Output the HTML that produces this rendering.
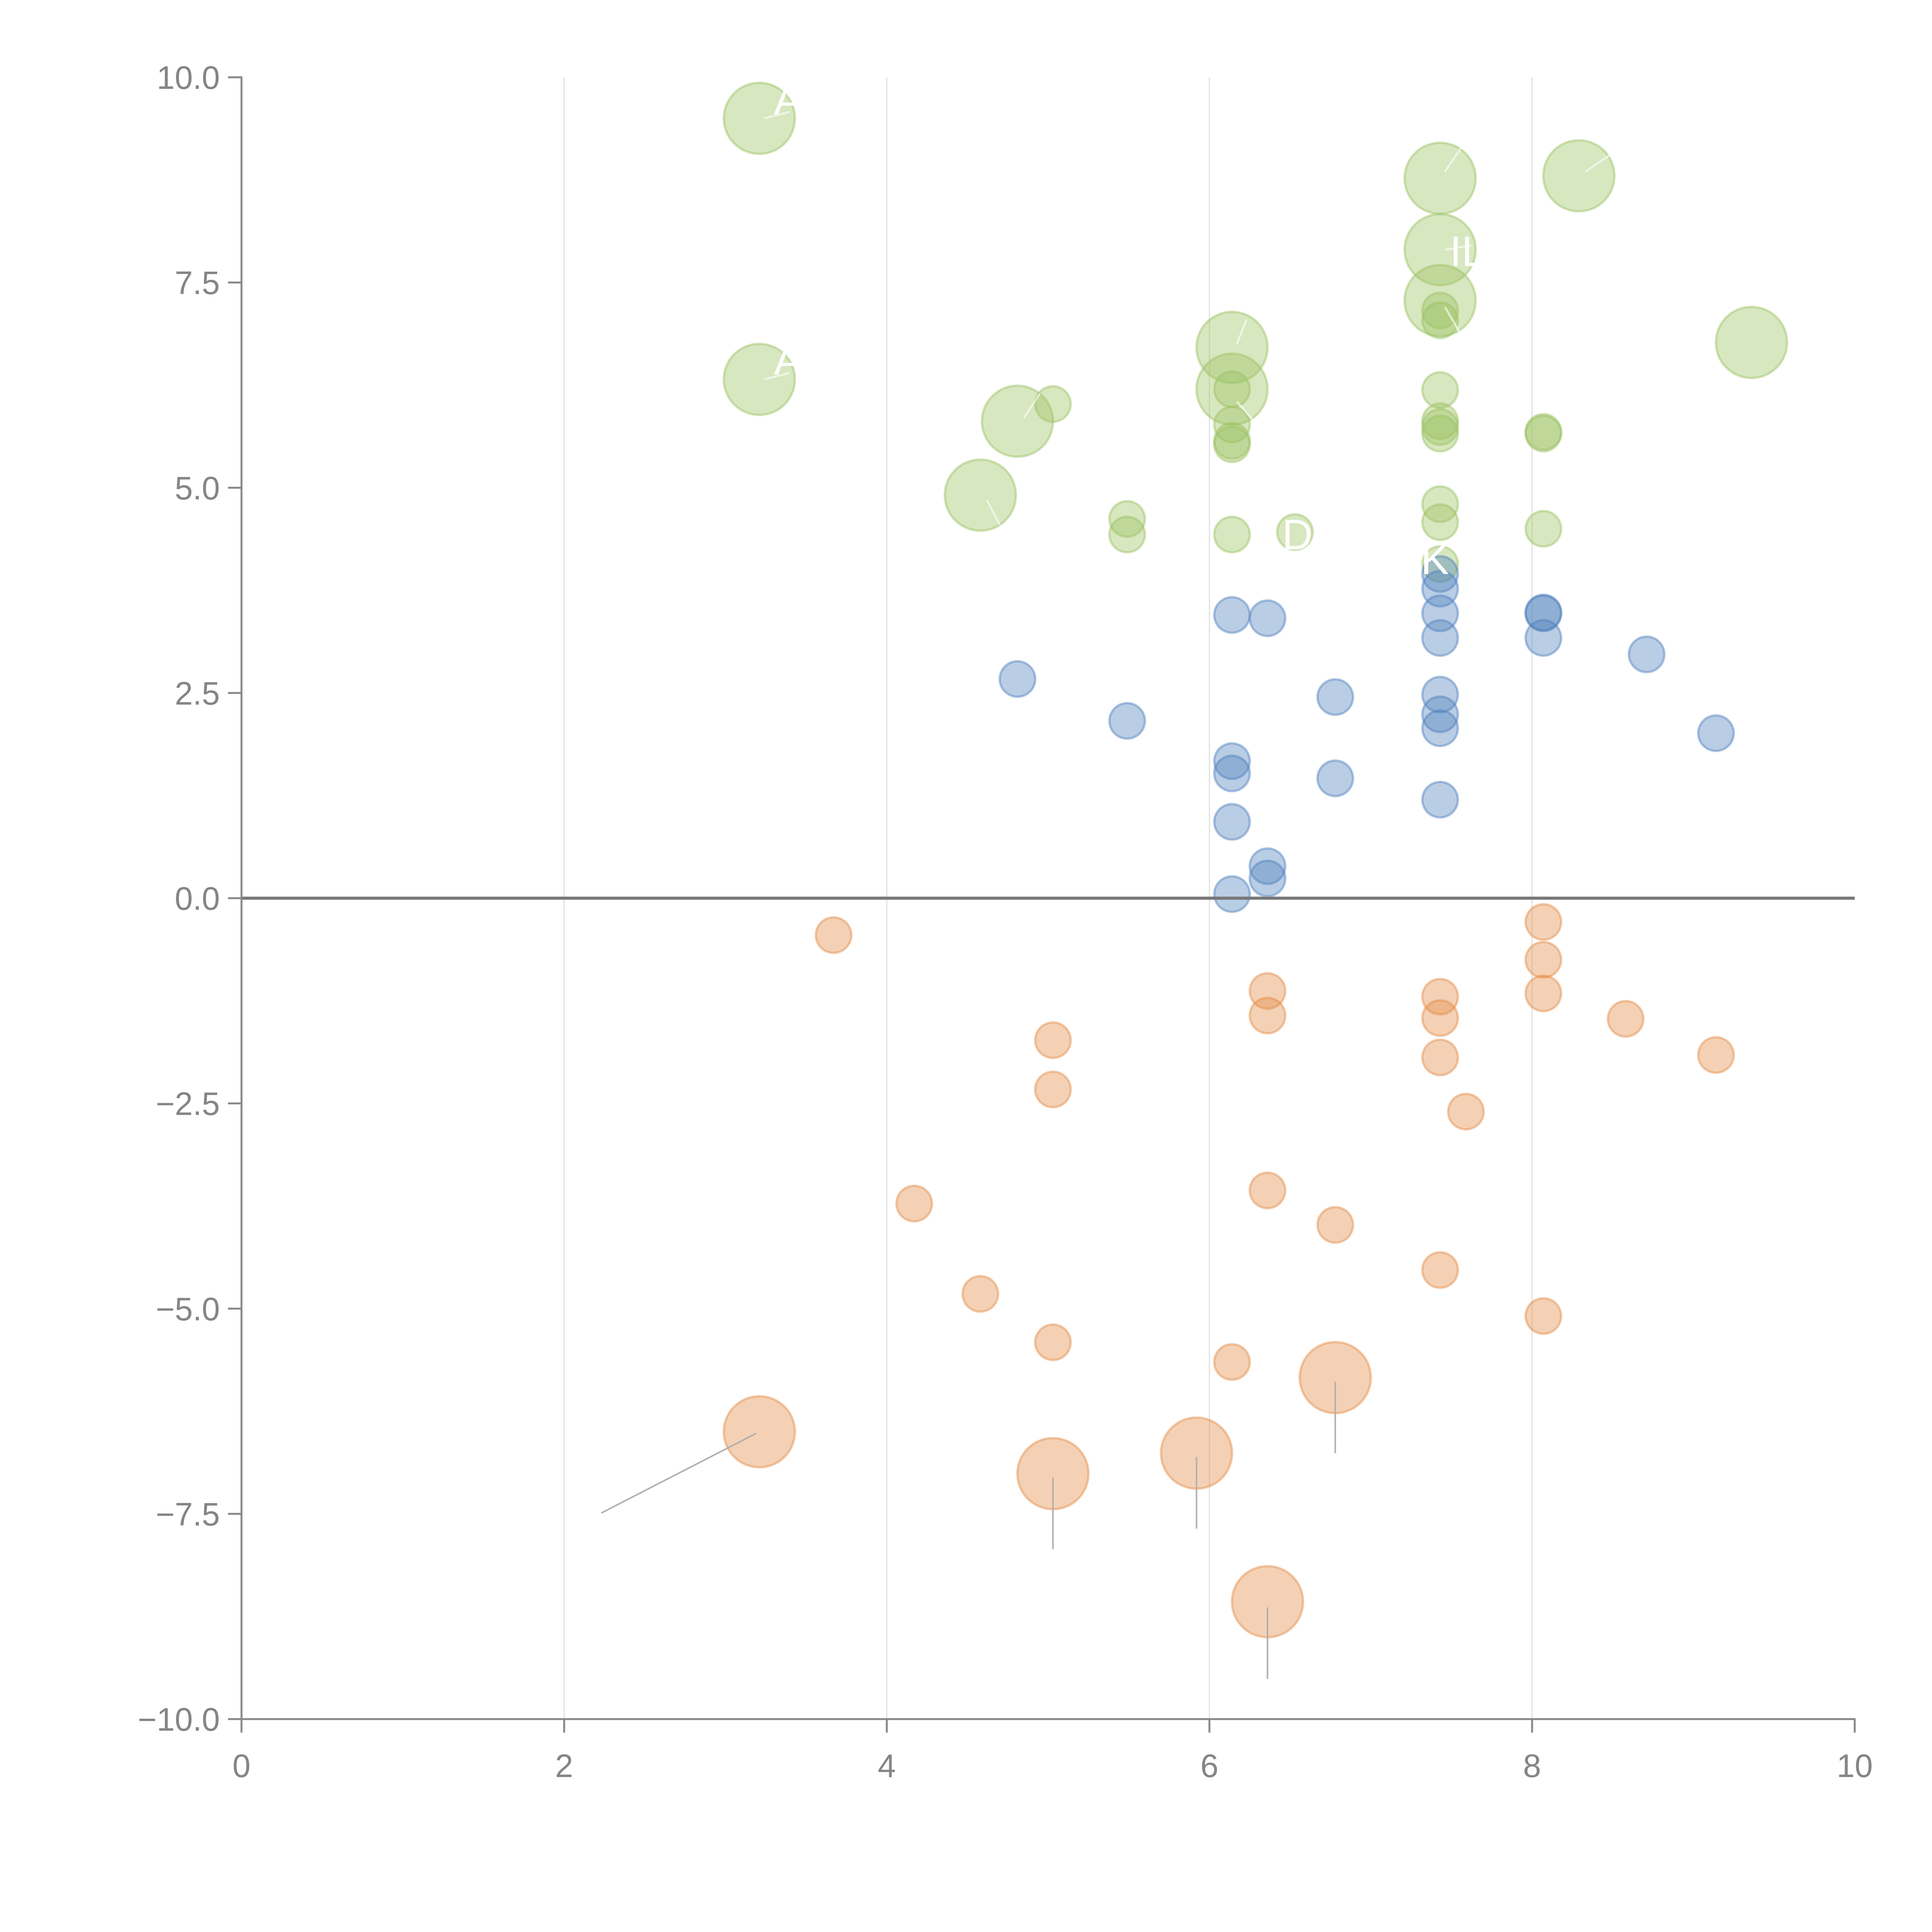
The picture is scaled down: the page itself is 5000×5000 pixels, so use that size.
<!DOCTYPE html>
<html><head><meta charset="utf-8"><style>html,body{margin:0;padding:0;background:#fff}svg{display:block}</style></head>
<body>
<svg id="chart" width="5000" height="5000" viewBox="0 0 5000 5000" xmlns="http://www.w3.org/2000/svg" font-family="'Liberation Sans', sans-serif">
<g id="grid"></g>
<g id="marks"></g>
<g id="axes"></g>
</svg>
<script>
const xTicks = [0, 2, 4, 6, 8, 10];
const yTicks = [-10, -7.5, -5, -2.5, 0, 2.5, 5, 7.5, 10];
const yTickLabels = ["\u221210.0","\u22127.5","\u22125.0","\u22122.5","0.0","2.5","5.0","7.5","10.0"];

const greenX = [3.21,3.21,7.43,8.29,7.43,7.43,6.14,6.14,4.81,4.58,9.36,5.03,7.43,7.43,6.14,6.14,6.14,6.14,7.43,7.43,7.43,7.43,8.07,8.07,5.49,5.49,6.14,6.53,7.43,7.43,7.43,8.07];
const greenY = [9.50,6.32,8.77,8.80,7.90,7.28,6.71,6.20,5.81,4.91,6.77,6.02,7.16,7.04,6.20,5.77,5.57,5.53,6.19,5.81,5.74,5.66,5.68,5.66,4.62,4.43,4.43,4.46,4.80,4.58,4.07,4.50];
const greenS = [4,4,4,4,4,4,4,4,4,4,4,1,1,1,1,1,1,1,1,1,1,1,1,1,1,1,1,1,1,1,1,1];

const blueX = [4.81,5.49,6.14,6.36,7.43,7.43,7.43,7.43,8.07,8.07,8.07,8.71,6.78,7.43,7.43,7.43,9.14,6.14,6.14,6.78,7.43,6.14,6.36,6.36,6.14];
const blueY = [2.67,2.16,3.45,3.41,3.95,3.77,3.47,3.17,3.48,3.47,3.17,2.97,2.45,2.48,2.24,2.07,2.01,1.67,1.52,1.46,1.20,0.93,0.39,0.24,0.05];
const blueS = [1,1,1,1,1,1,1,1,1,1,1,1,1,1,1,1,1,1,1,1,1,1,1,1,1];

const orangeX = [3.67,8.07,8.07,8.07,6.36,6.36,7.43,7.43,7.43,8.58,9.14,5.03,5.03,7.59,6.36,4.17,6.78,7.43,4.58,8.07,5.03,6.14,3.21,5.03,5.92,6.78,6.36];
const orangeY = [-0.45,-0.29,-0.75,-1.16,-1.13,-1.43,-1.20,-1.46,-1.94,-1.47,-1.91,-1.73,-2.33,-2.60,-3.56,-3.72,-3.98,-4.53,-4.82,-5.09,-5.41,-5.65,-6.50,-7.01,-6.76,-5.84,-8.57];
const orangeS = [1,1,1,1,1,1,1,1,1,1,1,1,1,1,1,1,1,1,1,1,1,1,4,4,4,4,4];

const leaderX1 = [3.19,5.03,5.92,6.78,6.36];
const leaderY1 = [-6.52,-7.06,-6.81,-5.89,-8.64];
const leaderX2 = [2.23,5.03,5.92,6.78,6.36];
const leaderY2 = [-7.49,-7.93,-7.68,-6.76,-9.51];

// white label ticks from large green bubbles
const wX1 = [3.24,3.24,7.46,8.33,7.46,7.46,6.17,6.17,4.85,4.62];
const wY1 = [9.50,6.32,8.85,8.85,7.90,7.20,6.75,6.05,5.85,4.85];
const wX2 = [3.40,3.40,7.58,8.48,7.62,7.55,6.23,6.28,4.95,4.70];
const wY2 = [9.58,6.40,9.20,9.05,7.95,6.90,7.05,5.80,6.15,4.55];

const NS = "http://www.w3.org/2000/svg";
const L = 625, R = 4800, T = 200, B = 4449;
function sx(v){ return L + (v - 0) / 10 * (R - L); }
function sy(v){ return B - (v + 10) / 20 * (B - T); }
function rad(s){ return 46 * Math.sqrt(s); }
function mk(tag, attrs, parent){ const e = document.createElementNS(NS, tag); for (const k in attrs) e.setAttribute(k, attrs[k]); parent.appendChild(e); return e; }

const grid = document.getElementById('grid');
const marks = document.getElementById('marks');
const axes = document.getElementById('axes');

xTicks.forEach(v => {
  if (v > 0 && v < 10) {
    const g = mk('line', {x1: sx(v), x2: sx(v), y1: T, y2: B, stroke: '#dcdcdc', 'stroke-width': 2.5}, grid);
    
    
  }
});

function drawSeries(xs, ys, ss, fill, stroke, name){
  xs.forEach((x, i) => {
    const c = mk('circle', {cx: sx(x), cy: sy(ys[i]), r: rad(ss[i]), fill: fill, stroke: stroke, 'stroke-width': 6}, marks);
    
    
  });
}
drawSeries(greenX, greenY, greenS, 'rgba(155,194,98,0.4)', 'rgba(155,194,98,0.45)', 'green-bubble');
drawSeries(blueX, blueY, blueS, 'rgba(79,129,189,0.4)', 'rgba(79,129,189,0.45)', 'blue-bubble');
drawSeries(orangeX, orangeY, orangeS, 'rgba(228,140,70,0.4)', 'rgba(228,140,70,0.45)', 'orange-bubble');

leaderX1.forEach((x, i) => {
  const l = mk('line', {x1: sx(x), y1: sy(leaderY1[i]), x2: sx(leaderX2[i]), y2: sy(leaderY2[i]), stroke: '#b0b0b0', 'stroke-width': 4}, marks);
  
  
});
wX1.forEach((x, i) => {
  const l = mk('line', {x1: sx(x), y1: sy(wY1[i]), x2: sx(wX2[i]), y2: sy(wY2[i]), stroke: 'rgba(255,255,255,0.6)', 'stroke-width': 5}, marks);
  
  
});

const labelText = ["A","A","IL","D","K"];
const labelX = [3.30,3.30,7.49,6.45,7.31];
const labelY = [9.55,6.38,7.70,4.25,3.95];
labelText.forEach((t, i) => {
  const tx = mk('text', {x: sx(labelX[i]), y: sy(labelY[i]), fill: '#ffffff', 'font-size': 110}, marks);
  tx.textContent = t;
  
  
});

const z = mk('line', {x1: L, x2: R, y1: sy(0), y2: sy(0), stroke: '#777', 'stroke-width': 8}, axes);



const ya = mk('line', {x1: L, x2: L, y1: T - 2, y2: B + 35, stroke: '#888', 'stroke-width': 5}, axes);


const xa = mk('line', {x1: L - 35, x2: R + 2, y1: B, y2: B, stroke: '#888', 'stroke-width': 5}, axes);



yTicks.forEach((v, i) => {
  const t = mk('line', {x1: L - 35, x2: L, y1: sy(v), y2: sy(v), stroke: '#888', 'stroke-width': 5}, axes);
  
  
  const tx = mk('text', {x: L - 56, y: sy(v) + 30, 'text-anchor': 'end', fill: '#858585', 'font-size': 84}, axes);
  tx.textContent = yTickLabels[i];
  
  
});
xTicks.forEach(v => {
  const t = mk('line', {x1: sx(v), x2: sx(v), y1: B, y2: B + 35, stroke: '#888', 'stroke-width': 5}, axes);
  
  
  const tx = mk('text', {x: sx(v), y: B + 150, 'text-anchor': 'middle', fill: '#858585', 'font-size': 84}, axes);
  tx.textContent = String(v);
  
  
});
</script>
</body></html>
